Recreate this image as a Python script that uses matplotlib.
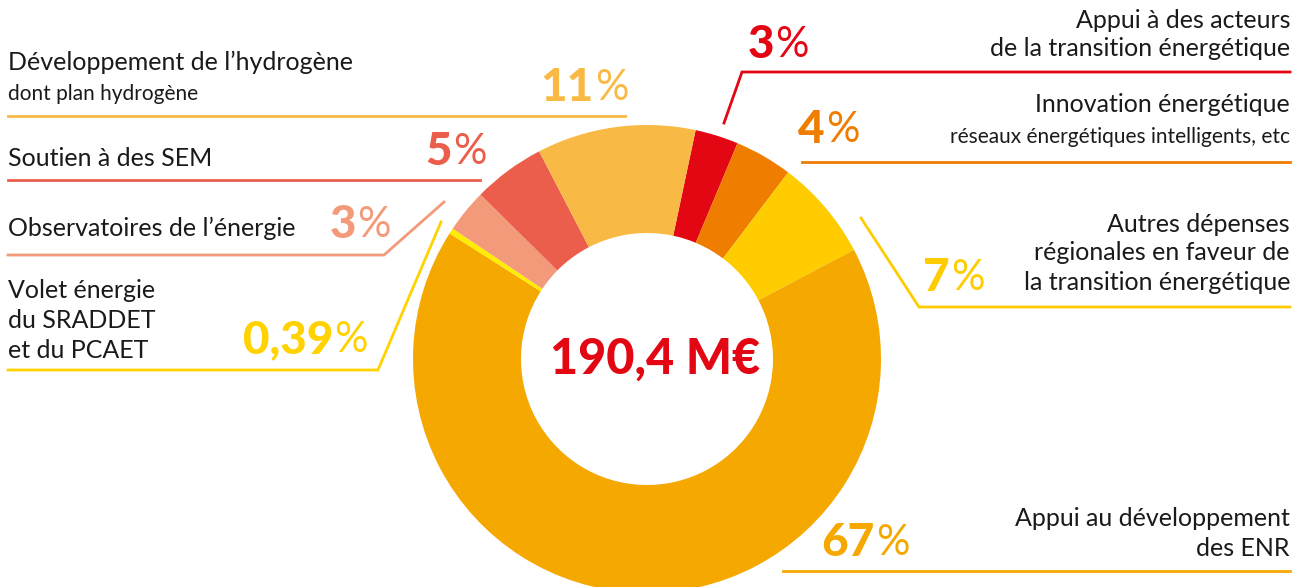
import matplotlib.pyplot as plt

plt.rcParams['font.family'] = ['Lato', 'DejaVu Sans']

# données (sens horaire à partir du segment rouge "3%")
valeurs = [3, 4, 7, 67, 0.39, 3, 5, 11]
pourcentages = ['3', '4', '7', '67', '0,39', '3', '5', '11']
couleurs = ['#E30613', '#EF7D00', '#FFCC00', '#F5A800', '#FFED00', '#F29A7A', '#EB5E4B', '#F9BA45']
couleurs_texte = ['#E30613', '#EF7D00', '#FFCC00', '#F5A800', '#FFD200', '#F29A7A', '#EB5E4B', '#F9BA45']
titres = [
    'Appui à des acteurs\nde la transition énergétique',
    'Innovation énergétique',
    'Autres dépenses\nrégionales en faveur de\nla transition énergétique',
    'Appui au développement\ndes ENR',
    'Volet énergie\ndu SRADDET\net du PCAET',
    'Observatoires de l’énergie',
    'Soutien à des SEM',
    'Développement de l’hydrogène',
]
sous_titres = ['', 'réseaux énergétiques intelligents, etc', '', '', '', '', '', 'dont plan hydrogène']
total = '190,4 M€'

W, H = 1306, 587


def Y(y):
    # coordonnées pixel (origine en haut) -> axes
    return H - y


fig = plt.figure(figsize=(W / 100, H / 100), dpi=100)
ax = fig.add_axes([0, 0, 1, 1])

cx, cy, r_ext, r_int = 647, 359, 234, 126
ax.pie(valeurs, colors=couleurs, startangle=78, counterclock=False,
       center=(cx, Y(cy)), radius=r_ext,
       wedgeprops=dict(width=r_ext - r_int, linewidth=0))
ax.set_xlim(0, W)
ax.set_ylim(0, H)
ax.set_aspect('equal')
ax.axis('off')

ax.text(cx + 8, Y(cy), total, color='#E30613', fontsize=35, fontweight='black',
        ha='center', va='center')

# mise en page : (x du texte, y des lignes, alignement, jonction chiffre/%, y du %, trait)
mise_en_page = [
    (1290, [20, 48], 'right', 774, 45, [(724, 123), (742, 72), (1290, 72)]),
    (1290, [105], 'right', 825, 130, [(802, 162), (1290, 162)]),
    (1290, [224, 253, 283], 'right', 950, 278, [(861, 218), (919, 307), (1290, 307)]),
    (1290, [518, 548], 'right', 875, 543, [(783, 571), (1290, 571)]),
    (8, [290, 320, 350], 'left', 333, 340, [(441, 222), (378, 370), (8, 370)]),
    (8, [228], 'left', 356, 225, [(444, 202), (384, 255), (8, 255)]),
    (8, [158], 'left', 452, 152, [(8, 180), (480, 180)]),
    (8, [62], 'left', 594, 88, [(8, 116), (625, 116)]),
]

for i, (tx, lignes_y, ha, xj, yp, trait) in enumerate(mise_en_page):
    for k, ligne in enumerate(titres[i].split('\n')):
        ax.text(tx, Y(lignes_y[k]), ligne, fontsize=18, color='#1a1a1a',
                ha=ha, va='center')
    if sous_titres[i]:
        ax.text(tx, Y(lignes_y[-1] + 32), sous_titres[i], fontsize=15,
                color='#1a1a1a', ha=ha, va='center')
    ax.text(xj, Y(yp), pourcentages[i], fontsize=33, fontweight='black',
            color=couleurs_texte[i], ha='right', va='center')
    ax.text(xj + 1, Y(yp), '%', fontsize=30, fontweight='normal',
            color=couleurs_texte[i], ha='left', va='center')
    xs = [p[0] for p in trait]
    ys = [Y(p[1]) for p in trait]
    ax.plot(xs, ys, color=couleurs[i] if i != 4 else '#FFD200', lw=2,
            solid_joinstyle='miter')

fig.savefig('out.png', dpi=100)
